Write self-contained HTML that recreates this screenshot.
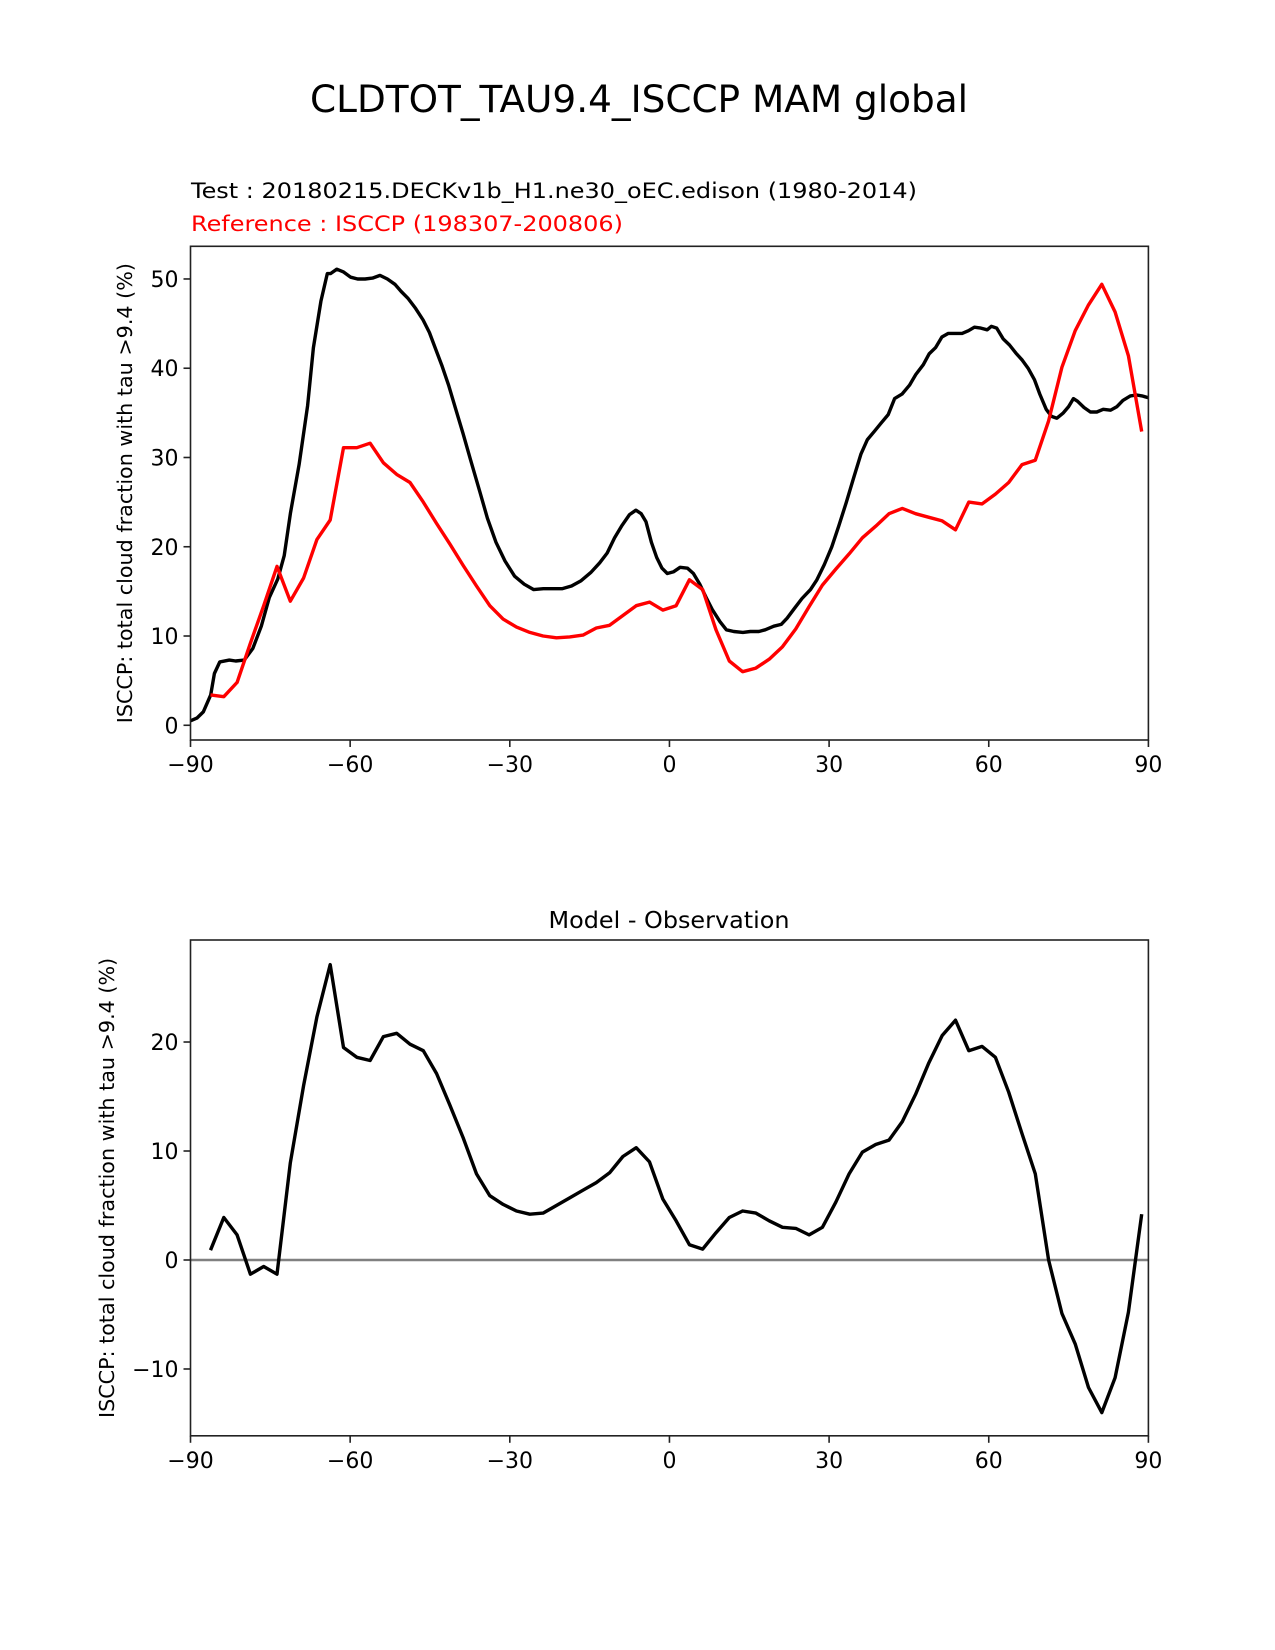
<!DOCTYPE html>
<html><head><meta charset="utf-8"><style>
html,body{margin:0;padding:0;background:#fff;}
svg{display:block;font-family:"DejaVu Sans","Liberation Sans",sans-serif;}
</style></head><body>
<svg id="fig" width="1275" height="1650" viewBox="0 0 1275 1650" xmlns="http://www.w3.org/2000/svg">
<rect width="1275" height="1650" fill="#fff"/>
<text x="639" y="112" font-size="37" text-anchor="middle" textLength="658" lengthAdjust="spacingAndGlyphs">CLDTOT_TAU9.4_ISCCP MAM global</text>
<text x="191" y="198" font-size="21" textLength="726" lengthAdjust="spacingAndGlyphs">Test : 20180215.DECKv1b_H1.ne30_oEC.edison (1980-2014)</text>
<text x="191" y="231" font-size="21" fill="#ff0000" textLength="432" lengthAdjust="spacingAndGlyphs">Reference : ISCCP (198307-200806)</text>
<text x="669" y="928" font-size="23" text-anchor="middle" textLength="241" lengthAdjust="spacingAndGlyphs">Model - Observation</text>
<g id="top"></g>
<g id="bot"></g>
</svg>
<script>
const testLat = [-90,-88.8,-87.6,-86.2,-85.5,-84.5,-82.7,-81.5,-79.9,-78.3,-76.7,-75.2,-73.6,-72.4,-71.2,-69.6,-68.0,-66.9,-65.5,-64.3,-63.7,-62.5,-61.3,-59.9,-58.6,-57.2,-55.8,-54.4,-53.0,-51.6,-50.4,-49.1,-47.7,-46.3,-45.1,-43.9,-42.7,-41.5,-40.2,-38.8,-37.4,-35.6,-34.2,-32.6,-30.9,-29.1,-27.3,-25.5,-23.7,-22.0,-20.2,-18.4,-16.6,-14.8,-13.1,-11.7,-10.3,-8.9,-7.5,-6.3,-5.3,-4.4,-3.4,-2.4,-1.4,-0.4,0.8,2.0,3.4,4.5,5.7,6.9,8.1,9.5,10.7,12.1,13.8,15.2,16.8,18.0,19.6,21.0,22.1,23.5,24.9,26.5,27.7,29.1,30.5,31.8,33.2,34.6,36.0,37.2,38.6,39.7,41.1,42.3,43.7,45.1,46.3,47.7,48.8,50.0,51.2,52.4,53.8,55.0,56.2,57.3,58.5,59.7,60.5,61.5,62.7,63.9,65.1,66.3,67.4,68.6,69.6,70.8,71.8,72.8,74.0,75.0,75.9,76.7,77.9,79.1,80.3,81.5,82.9,84.1,85.2,86.6,87.8,88.8,90];
const testVals = [0.5,0.8,1.5,3.4,5.8,7.1,7.3,7.2,7.3,8.6,11.1,14.3,16.4,19.0,23.8,29.2,35.8,42.3,47.5,50.6,50.6,51.1,50.8,50.2,50.0,50.0,50.1,50.4,50.0,49.4,48.6,47.8,46.7,45.4,44.0,42.1,40.2,38.1,35.5,32.7,29.8,26.1,23.2,20.5,18.4,16.7,15.8,15.2,15.3,15.3,15.3,15.6,16.2,17.1,18.2,19.3,21.0,22.4,23.6,24.1,23.7,22.8,20.5,18.8,17.6,17.0,17.2,17.7,17.6,17.0,15.8,14.3,12.9,11.6,10.7,10.5,10.4,10.5,10.5,10.7,11.1,11.3,12.0,13.1,14.2,15.2,16.3,18.0,20.0,22.3,24.9,27.7,30.4,32.0,33.0,33.8,34.8,36.6,37.1,38.1,39.3,40.4,41.6,42.3,43.5,43.9,43.9,43.9,44.2,44.6,44.5,44.3,44.7,44.5,43.3,42.6,41.7,40.9,40.0,38.7,37.1,35.4,34.6,34.4,35.0,35.7,36.6,36.3,35.6,35.1,35.1,35.4,35.3,35.7,36.4,36.9,37.0,36.9,36.7];
const obsLatStart = -86.25, obsLatStep = 2.5;
const refVals = [3.4,3.2,4.8,9.2,13.4,17.8,13.9,16.5,20.8,23.0,31.1,31.1,31.6,29.4,28.1,27.2,25.0,22.6,20.3,17.9,15.6,13.4,11.9,11.0,10.4,10.0,9.8,9.9,10.1,10.9,11.2,12.3,13.4,13.8,12.9,13.4,16.3,15.2,10.7,7.2,6.0,6.4,7.4,8.8,10.8,13.3,15.7,17.5,19.2,21.0,22.3,23.7,24.3,23.7,23.3,22.9,21.9,25.0,24.8,25.9,27.2,29.2,29.7,34.1,40.1,44.2,47.1,49.4,46.3,41.4,32.9];
const diffVals = [0.9,3.9,2.3,-1.3,-0.6,-1.3,8.9,16.0,22.3,27.1,19.5,18.6,18.3,20.5,20.8,19.8,19.2,17.1,14.2,11.2,7.9,5.9,5.1,4.5,4.2,4.3,5.0,5.7,6.4,7.1,8.0,9.5,10.3,9.0,5.6,3.6,1.4,1.0,2.5,3.9,4.5,4.3,3.6,3.0,2.9,2.3,3.0,5.3,7.9,9.9,10.6,11.0,12.7,15.2,18.1,20.6,22.0,19.2,19.6,18.6,15.4,11.6,7.9,0.0,-4.9,-7.7,-11.7,-14.0,-10.8,-4.8,4.2];
const xTicks = [-90,-60,-30,0,30,60,90];
const xTickLabels = ["\u221290","\u221260","\u221230","0","30","60","90"];
const topYTicks = [0,10,20,30,40,50];
const botYTicks = [-10,0,10,20];
const botYTickLabels = ["\u221210","0","10","20"];

const NS="http://www.w3.org/2000/svg";
function mk(parent,tag,attrs){const e=document.createElementNS(NS,tag);for(const k in attrs)e.setAttribute(k,attrs[k]);parent.appendChild(e);return e;}
const X0=190.5,X1=1148.4;
function xs(v){return X0+(v+90)/180*(X1-X0);}

function drawAxes(g,top,bottom,ymin,ymax,yTicks,yLabels,ylabelX,namePrefix){
  const ys=v=>bottom-(v-ymin)/(ymax-ymin)*(bottom-top);
  xTicks.forEach((t,i)=>{
    const l=mk(g,'line',{x1:xs(t),x2:xs(t),y1:bottom,y2:bottom+7,stroke:'#222','stroke-width':1.6});
    
    
    const tx=mk(g,'text',{x:xs(t),y:bottom+32,'font-size':22,'text-anchor':'middle'});
    tx.textContent=xTickLabels[i];
    
    
  });
  yTicks.forEach((t,i)=>{
    const l=mk(g,'line',{x1:X0-7,x2:X0,y1:ys(t),y2:ys(t),stroke:'#222','stroke-width':1.6});
    
    
    const tx=mk(g,'text',{x:X0-12,y:ys(t)+8,'font-size':22,'text-anchor':'end'});
    tx.textContent=yLabels[i];
    
    
  });
  const cy=(top+bottom)/2;
  const yl=mk(g,'text',{x:ylabelX,y:cy,'font-size':20.7,'text-anchor':'middle',transform:`rotate(-90 ${ylabelX} ${cy})`});
  yl.textContent='ISCCP: total cloud fraction with tau >9.4 (%)';
  
  
  return ys;
}
function line(g,xsArr,vals,ys,color,name){
  const d=vals.map((v,i)=>(i?'L':'M')+xs(xsArr[i]).toFixed(1)+','+ys(v).toFixed(1)).join('');
  const p=mk(g,'path',{d:d,fill:'none',stroke:color,'stroke-width':3.4,'stroke-linejoin':'round'});
  
  
}
function frame(g,top,bottom,name){
  const r=mk(g,'rect',{x:X0,y:top,width:X1-X0,height:bottom-top,fill:'none',stroke:'#222','stroke-width':1.6});
  
  
}
const obsLat=refVals.map((_,i)=>obsLatStart+i*obsLatStep);

// top chart
const gt=document.getElementById('top');
const T0=246.3,T1=740;
const ysT=drawAxes(gt,T0,T1,-1.65,53.66,topYTicks,topYTicks.map(String),132,'top');
line(gt,testLat,testVals,ysT,'#000','test-line');
line(gt,obsLat,refVals,ysT,'#ff0000','reference-line');
frame(gt,T0,T1,'top-plot-frame');

// bottom chart
const gb=document.getElementById('bot');
const B0=940,B1=1435.8;
const ysB=drawAxes(gb,B0,B1,-16.13,29.36,botYTicks,botYTickLabels,114,'diff');
const z=mk(gb,'line',{x1:X0,x2:X1,y1:ysB(0),y2:ysB(0),stroke:'#808080','stroke-width':2.5});


line(gb,obsLat,diffVals,ysB,'#000','difference-line');
frame(gb,B0,B1,'diff-plot-frame');
</script>
</body></html>
